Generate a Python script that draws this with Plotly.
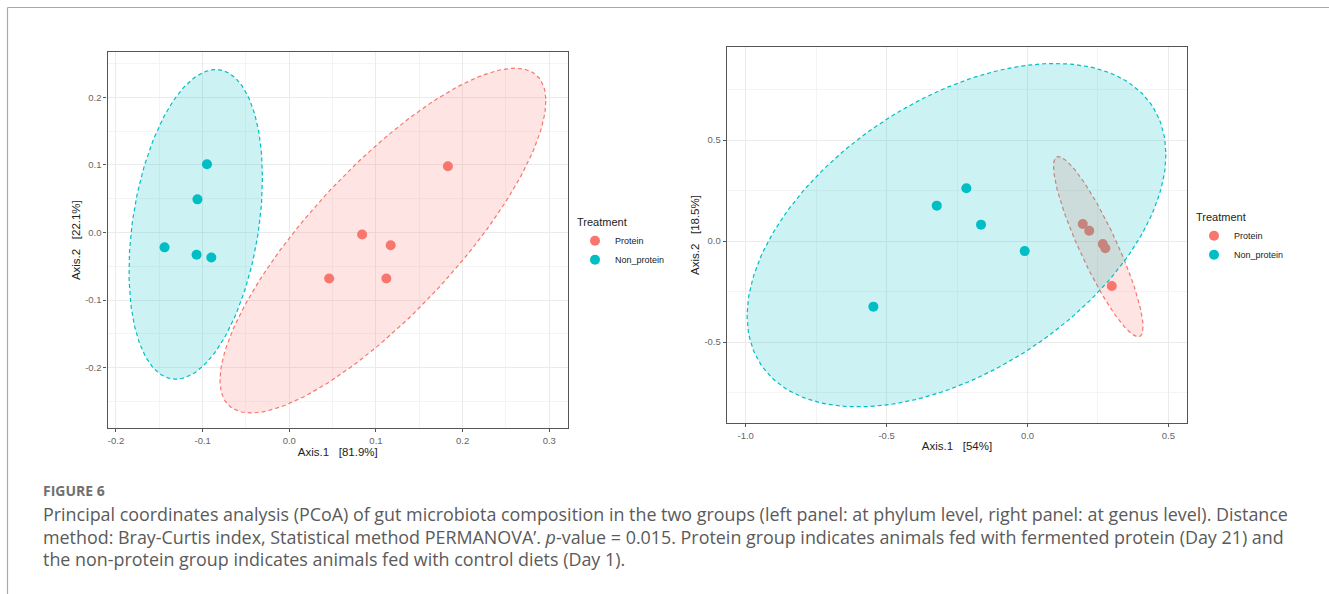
import numpy as np
import plotly.graph_objects as go

# ---------------- data ----------------
groups = ["Protein", "Non_protein"]
group_colors = ["#F8766D", "#00BFC4"]
group_fills = ["rgba(248,118,109,0.2)", "rgba(0,191,196,0.2)"]

# Left panel (phylum level)
left_protein_x = [0.183, 0.084, 0.117, 0.046, 0.112]
left_protein_y = [0.098, -0.003, -0.019, -0.068, -0.068]
left_nonprot_x = [-0.095, -0.106, -0.144, -0.107, -0.090]
left_nonprot_y = [0.101, 0.049, -0.022, -0.033, -0.037]

# Right panel (genus level)
right_protein_x = [0.196, 0.219, 0.267, 0.276, 0.299]
right_protein_y = [0.084, 0.051, -0.015, -0.036, -0.223]
right_nonprot_x = [-0.217, -0.322, -0.165, -0.010, -0.547]
right_nonprot_y = [0.261, 0.175, 0.081, -0.050, -0.325]

# 95% ellipses: centre, half x-extent, half y-extent, correlation
left_ell_cx = [0.108, -0.108]
left_ell_cy = [-0.012, 0.012]
left_ell_wx = [0.188, 0.077]
left_ell_wy = [0.255, 0.229]
left_ell_rho = [0.81, 0.30]

right_ell_cx = [0.251, -0.252]
right_ell_cy = [-0.028, 0.029]
right_ell_wx = [0.159, 0.743]
right_ell_wy = [0.446, 0.850]
right_ell_rho = [-0.89, 0.47]

left_xticks = [-0.2, -0.1, 0.0, 0.1, 0.2, 0.3]
left_xticktext = ["-0.2", "-0.1", "0.0", "0.1", "0.2", "0.3"]
left_yticks = [-0.2, -0.1, 0.0, 0.1, 0.2]
left_yticktext = ["-0.2", "-0.1", "0.0", "0.1", "0.2"]
right_xticks = [-1.0, -0.5, 0.0, 0.5]
right_xticktext = ["-1.0", "-0.5", "0.0", "0.5"]
right_yticks = [-0.5, 0.0, 0.5]
right_yticktext = ["-0.5", "0.0", "0.5"]

left_xtitle = "Axis.1\u00a0\u00a0\u00a0[81.9%]"
left_ytitle = "Axis.2\u00a0\u00a0\u00a0[22.1%]"
right_xtitle = "Axis.1\u00a0\u00a0\u00a0[54%]"
right_ytitle = "Axis.2\u00a0\u00a0\u00a0[18.5%]"

caption_head = "FIGURE 6"
caption_lines = [
    "Principal coordinates analysis (PCoA) of gut microbiota composition in the two groups (left panel: at phylum level, right panel: at genus level). Distance",
    "method: Bray-Curtis index, Statistical method PERMANOVA\u2019. <i>p</i>-value = 0.015. Protein group indicates animals fed with fermented protein (Day 21) and",
    "the non-protein group indicates animals fed with control diets (Day 1).",
]

# ---------------- figure ----------------
W, H = 1329, 594
fig = go.Figure()


def ellipse(cx, cy, wx, wy, rho, n=200):
    t = np.linspace(0, 2 * np.pi, n)
    d = np.arccos(rho)
    return cx + wx * np.cos(t), cy + wy * np.cos(t + d)


panels = [
    ("x", "y", "legend", [left_protein_x, left_nonprot_x], [left_protein_y, left_nonprot_y],
     (left_ell_cx, left_ell_cy, left_ell_wx, left_ell_wy, left_ell_rho)),
    ("x2", "y2", "legend2", [right_protein_x, right_nonprot_x], [right_protein_y, right_nonprot_y],
     (right_ell_cx, right_ell_cy, right_ell_wx, right_ell_wy, right_ell_rho)),
]

for xa, ya, lg, xs, ys, ell in panels:
    for i, g in enumerate(groups):
        fig.add_trace(go.Scatter(
            x=xs[i], y=ys[i], mode="markers", name=g, legend=lg,
            marker=dict(size=10, color=group_colors[i]),
            xaxis=xa, yaxis=ya, showlegend=True, hoverinfo="skip"))
    for i, g in enumerate(groups):
        ex, ey = ellipse(ell[0][i], ell[1][i], ell[2][i], ell[3][i], ell[4][i])
        fig.add_trace(go.Scatter(
            x=ex, y=ey, mode="lines", fill="toself", fillcolor=group_fills[i],
            line=dict(color=group_colors[i], width=1.2, dash="4px,3px"),
            xaxis=xa, yaxis=ya, showlegend=False, hoverinfo="skip"))

axis_common = dict(
    showline=True, mirror=True, linecolor="#555555", linewidth=1.1,
    ticks="outside", ticklen=3, tickcolor="#555555", tickwidth=1,
    showgrid=True, gridcolor="#EBEBEB", gridwidth=1, zeroline=False,
    tickfont=dict(family="Liberation Sans, Arial, sans-serif", size=9.5, color="#666666"),
    title_font=dict(family="Liberation Sans, Arial, sans-serif", size=11.5, color="#222222"),
)


def ax(**kw):
    d = dict(axis_common)
    d.update(kw)
    return d


legend_common = dict(
    xanchor="left", yanchor="top", bgcolor="rgba(0,0,0,0)",
    title=dict(text="Treatment", font=dict(family="Liberation Sans, Arial, sans-serif", size=11, color="#222222")),
    font=dict(family="Liberation Sans, Arial, sans-serif", size=9, color="#222222"),
    itemwidth=30, tracegroupgap=0,
)

fig.update_layout(
    width=W, height=H,
    margin=dict(l=0, r=0, t=0, b=0),
    paper_bgcolor="white", plot_bgcolor="white",
    xaxis=ax(domain=[107.5 / W, 568 / W], range=[-0.2098, 0.3216], anchor="y",
             tickvals=left_xticks, ticktext=left_xticktext,
             minor=dict(dtick=0.05, tick0=0.05, showgrid=True, gridcolor="#F4F4F4", gridwidth=0.6, ticks=""),
             title=dict(text=left_xtitle, standoff=2)),
    yaxis=ax(domain=[1 - 428.3 / H, 1 - 52 / H], range=[-0.2897, 0.267], anchor="x",
             tickvals=left_yticks, ticktext=left_yticktext,
             minor=dict(dtick=0.05, tick0=0.05, showgrid=True, gridcolor="#F4F4F4", gridwidth=0.6, ticks=""),
             title=dict(text=left_ytitle, standoff=2)),
    xaxis2=ax(domain=[726.7 / W, 1187.3 / W], range=[-1.0675, 0.567], anchor="y2",
              tickvals=right_xticks, ticktext=right_xticktext,
              minor=dict(dtick=0.25, tick0=0.25, showgrid=True, gridcolor="#F4F4F4", gridwidth=0.6, ticks=""),
              title=dict(text=right_xtitle, standoff=2)),
    yaxis2=ax(domain=[1 - 423.3 / H, 1 - 46.7 / H], range=[-0.9025, 0.962], anchor="x2",
              tickvals=right_yticks, ticktext=right_yticktext,
              minor=dict(dtick=0.25, tick0=0.25, showgrid=True, gridcolor="#F4F4F4", gridwidth=0.6, ticks=""),
              title=dict(text=right_ytitle, standoff=2)),
    legend=dict(x=575 / W, y=1 - 212 / H, **legend_common),
    legend2=dict(x=1194 / W, y=1 - 207 / H, **legend_common),
    showlegend=True,
)

# outer frame (left and top rules)
fig.add_shape(type="line", xref="paper", yref="paper", x0=7.5 / W, x1=1, y0=1 - 7.5 / H, y1=1 - 7.5 / H,
              line=dict(color="#AAAAAA", width=1.2))
fig.add_shape(type="line", xref="paper", yref="paper", x0=7.5 / W, x1=7.5 / W, y0=0, y1=1 - 7.5 / H,
              line=dict(color="#AAAAAA", width=1.2))

# caption
fig.add_annotation(text="<b>" + caption_head + "</b>", xref="paper", yref="paper",
                   x=41 / W, y=1 - 490 / H, xanchor="left", yanchor="middle", showarrow=False,
                   font=dict(family="Open Sans, sans-serif", size=14, color="#707070"))
for k, line in enumerate(caption_lines):
    fig.add_annotation(text=line, xref="paper", yref="paper",
                       x=41 / W, y=1 - (514 + 22.5 * k) / H, xanchor="left", yanchor="middle",
                       showarrow=False, font=dict(family="Open Sans, sans-serif", size=17.9, color="#5A5A5A"))

fig.write_html("out.html", config={"displayModeBar": False},
               post_script="document.body.style.margin='0';document.body.style.overflow='hidden';")
